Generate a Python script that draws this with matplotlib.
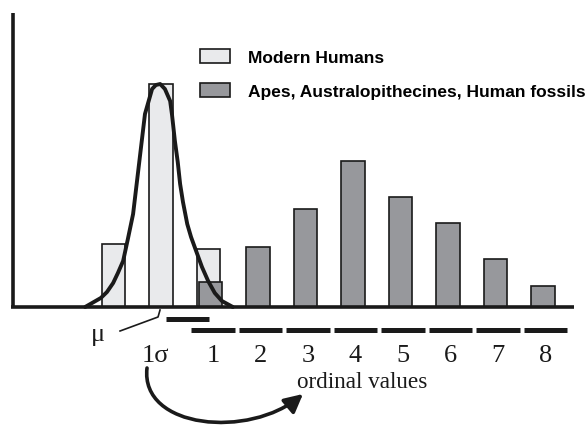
import numpy as np
import matplotlib
matplotlib.use("Agg")
import matplotlib.pyplot as plt
from matplotlib.patches import FancyArrowPatch, Patch
from matplotlib.path import Path

# data (heights in arbitrary units)
human_pos = [-1, 0, 1]
human_heights = [63, 223, 58]
fossil_pos = [1, 2, 3, 4, 5, 6, 7, 8]
fossil_heights = [25, 60, 98, 146, 110, 84, 48, 21]
ordinal_labels = ["1", "2", "3", "4", "5", "6", "7", "8"]

# normal-looking curve fitted over modern humans, read point by point
curve_x = [-1.64, -1.31, -1.18, -1.05, -0.95, -0.84, -0.74, -0.63, -0.55, -0.48,
           -0.38, -0.23, -0.15, -0.06, 0.04, 0.15, 0.19, 0.25, 0.31, 0.36,
           0.42, 0.51, 0.59, 0.72, 0.82, 0.95, 1.09, 1.24, 1.47]
curve_y = [0, 9, 15, 24, 34, 46, 68, 93, 125, 153,
           193, 218, 222, 223, 218, 206, 192, 166, 145, 123,
           105, 83, 70, 53, 40, 26, 14, 6, 0]

light = "#e9eaec"
dark = "#97989c"
ink = "#1a1a1a"

fig = plt.figure(figsize=(5.88, 4.27), dpi=100)
ax = fig.add_axes([0, 0, 1, 1])
ax.set_xlim(-3.432, 8.947)
ax.set_ylim(-119, 308)
ax.axis("off")

ax.bar(np.array(human_pos) - 0.04, human_heights, width=0.5, color=light,
       edgecolor=ink, linewidth=1.2, zorder=2, label="Modern Humans")
ax.bar(fossil_pos, fossil_heights, width=0.5, color=dark,
       edgecolor=ink, linewidth=1.2, zorder=3,
       label="Apes, Australopithecines, Human fossils")
ax.plot(curve_x, curve_y, color=ink, lw=2.8, zorder=4,
        solid_joinstyle="round", solid_capstyle="round")

# hand drawn axes
ax.plot([-3.158, -3.158], [0, 294], color=ink, lw=2.6, zorder=5,
        solid_capstyle="butt")
ax.plot([-3.2, 8.65], [0, 0], color=ink, lw=2.6, zorder=5,
        solid_capstyle="butt")

# 1 sigma bar and ordinal bins under the axis
ax.plot([0.06, 0.97], [-12, -12], color=ink, lw=3.6, solid_capstyle="butt")
for p, lab in zip(fossil_pos, ordinal_labels):
    ax.plot([p + 0.05 - 0.455, p + 0.05 + 0.455], [-22.5, -22.5], color=ink,
            lw=3.6, solid_capstyle="butt")
    ax.text(p + 0.05, -48, lab, ha="center", va="center",
            family="Liberation Serif", fontsize=19, color=ink)

ax.text(-0.15, -48, "1σ", ha="center", va="center",
        family="Liberation Serif", fontsize=19, color=ink)
ax.text(-1.36, -27, "μ", ha="center", va="center",
        family="Liberation Serif", fontsize=19, color=ink)
ax.plot([-0.905, -0.105, -0.063], [-24, -10, -3], color=ink, lw=1.2)
ax.text(4.19, -75, "ordinal values", ha="center", va="center",
        family="Liberation Serif", fontsize=16.7, color=ink)

# curved arrow from 1 sigma to ordinal values
arc = Path([(-0.337, -61), (-0.484, -122), (1.821, -132), (2.947, -87)],
           [Path.MOVETO, Path.CURVE4, Path.CURVE4, Path.CURVE4])
ax.add_patch(FancyArrowPatch(path=arc, arrowstyle="-|>,head_length=0.55,head_width=0.28",
                             mutation_scale=20, color=ink, lw=2.6))

handles = [Patch(facecolor=light, edgecolor=ink, linewidth=1.2),
           Patch(facecolor=dark, edgecolor=ink, linewidth=1.2)]
ax.legend(handles, ["Modern Humans", "Apes, Australopithecines, Human fossils"],
          loc="upper left", bbox_to_anchor=(200 / 588, 1 - 50 / 427),
          frameon=False, borderpad=0, borderaxespad=0,
          handlelength=1.72, handleheight=0.86, handletextpad=1.03,
          labelspacing=1.05,
          prop={"family": "Liberation Sans", "weight": "bold", "size": 12.5})

fig.savefig("out.png", dpi=100)
